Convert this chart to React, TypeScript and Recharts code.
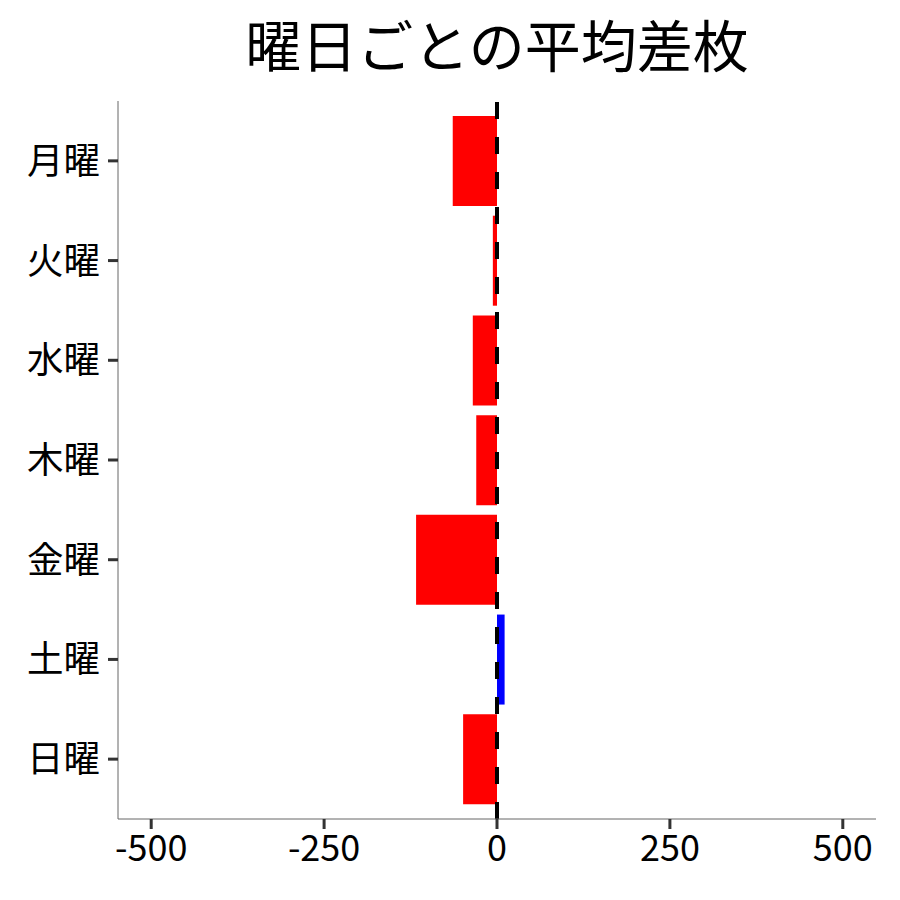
import { BarChart, Bar, XAxis, YAxis, ReferenceLine, Cell } from 'recharts';

// 曜日ごとの平均差枚
const days = ['月曜', '火曜', '水曜', '木曜', '金曜', '土曜', '日曜'];
const avgDiff = [-64, -6, -35, -30, -117, 11, -49];
const xTicks = [-500, -250, 0, 250, 500];

const data = days.map((day, i) => ({ day, value: avgDiff[i] }));

const FONT = '"Noto Sans CJK JP", "Noto Sans", sans-serif';

export default function App() {
  return (
    <div style={{ position: 'absolute', left: 0, top: 0, width: 900, height: 900, background: '#fff', fontFamily: FONT }}>
      <div
        style={{
          position: 'absolute',
          top: 5,
          left: 118,
          width: 758,
          textAlign: 'center',
          fontSize: 56,
          color: '#000',
          lineHeight: '76px',
        }}
      >
        曜日ごとの平均差枚
      </div>
      <BarChart
        width={900}
        height={900}
        data={data}
        layout="vertical"
        margin={{ top: 101, right: 24, left: 0, bottom: 0 }}
        barCategoryGap="5%"
      >
        <XAxis
          type="number"
          domain={[-548, 548]}
          ticks={xTicks}
          allowDataOverflow
          height={81}
          stroke="#666"
          tickSize={10}
          tickMargin={6}
          tickLine={{ stroke: '#333', strokeWidth: 3 }}
          tick={{ fill: '#000', fontSize: 36, fontFamily: FONT }}
        />
        <YAxis
          type="category"
          dataKey="day"
          width={118}
          padding={{ top: 10, bottom: 10 }}
          stroke="#666"
          tickSize={10}
          tickMargin={8}
          tickLine={{ stroke: '#333', strokeWidth: 3 }}
          tick={{ fill: '#000', fontSize: 36.5, fontFamily: FONT }}
        />
        <Bar dataKey="value" isAnimationActive={false}>
          {data.map((d) => (
            <Cell key={d.day} fill={d.value >= 0 ? '#0000ff' : '#ff0000'} />
          ))}
        </Bar>
        <ReferenceLine x={0} stroke="#000" strokeWidth={4} strokeDasharray="17 18" />
      </BarChart>
    </div>
  );
}
